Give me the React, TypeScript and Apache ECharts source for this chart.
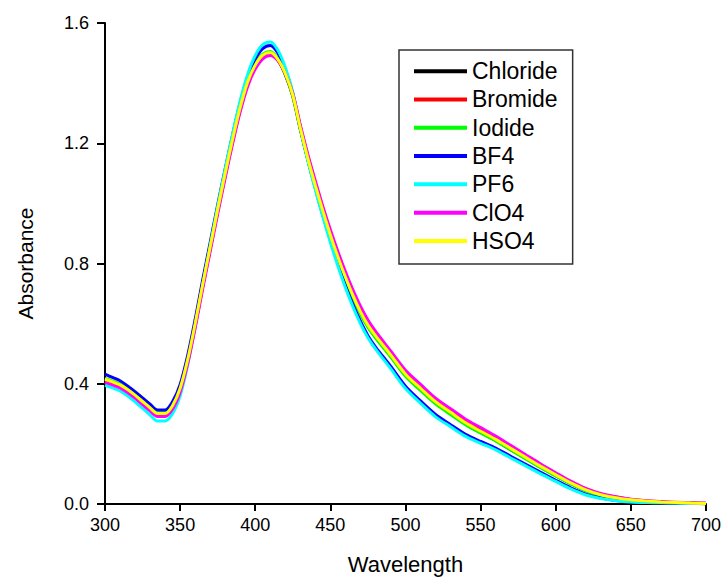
import React, { useEffect, useRef } from "react";
import * as echarts from "echarts";

const WAVELENGTHS = [
  300, 305, 310, 315, 320, 325, 330, 335, 340, 345, 350, 355, 360, 365, 370, 375, 380, 385, 390, 395,
  400, 405, 410, 415, 420, 425, 430, 435, 440, 445, 450, 455, 460, 465, 470, 475, 480,
  490, 500, 510, 520, 530, 540, 550, 560, 570, 580, 590, 600, 610, 620, 630, 640, 650, 660, 670, 680, 690, 700,
];

const CHLORIDE = [
  0.412, 0.403, 0.393, 0.378, 0.359, 0.338, 0.317, 0.298, 0.298, 0.325, 0.382, 0.477, 0.597, 0.727, 0.852, 0.977, 1.097, 1.212, 1.317, 1.402,
  1.457, 1.490, 1.499, 1.477, 1.428, 1.356, 1.246, 1.146, 1.056, 0.971, 0.891, 0.818, 0.751, 0.690, 0.636, 0.591, 0.556,
  0.493, 0.428, 0.381, 0.336, 0.301, 0.266, 0.238, 0.211, 0.181, 0.152, 0.122, 0.094, 0.068, 0.045, 0.029, 0.019, 0.013, 0.009, 0.006, 0.004, 0.003, 0.001,
];

const BROMIDE = [
  0.409, 0.400, 0.390, 0.375, 0.356, 0.335, 0.314, 0.295, 0.295, 0.321, 0.378, 0.472, 0.592, 0.722, 0.847, 0.972, 1.092, 1.207, 1.312, 1.397,
  1.453, 1.487, 1.497, 1.478, 1.433, 1.363, 1.256, 1.157, 1.068, 0.983, 0.904, 0.832, 0.765, 0.704, 0.650, 0.604, 0.568,
  0.504, 0.439, 0.392, 0.346, 0.311, 0.276, 0.248, 0.221, 0.190, 0.160, 0.129, 0.101, 0.073, 0.050, 0.033, 0.023, 0.015, 0.011, 0.008, 0.005, 0.004, 0.002,
];

const IODIDE = [
  0.418, 0.409, 0.399, 0.384, 0.365, 0.344, 0.323, 0.304, 0.304, 0.331, 0.388, 0.483, 0.603, 0.733, 0.858, 0.983, 1.103, 1.218, 1.323, 1.408,
  1.463, 1.496, 1.505, 1.482, 1.432, 1.358, 1.247, 1.146, 1.055, 0.969, 0.889, 0.815, 0.748, 0.687, 0.633, 0.588, 0.553,
  0.490, 0.425, 0.378, 0.333, 0.298, 0.264, 0.236, 0.210, 0.180, 0.150, 0.121, 0.093, 0.067, 0.044, 0.029, 0.019, 0.013, 0.009, 0.006, 0.004, 0.003, 0.002,
];

const BF4 = [
  0.432, 0.421, 0.410, 0.393, 0.374, 0.353, 0.332, 0.313, 0.313, 0.341, 0.398, 0.494, 0.614, 0.745, 0.870, 0.995, 1.115, 1.230, 1.336, 1.422,
  1.480, 1.515, 1.525, 1.500, 1.445, 1.365, 1.250, 1.145, 1.050, 0.960, 0.877, 0.800, 0.728, 0.664, 0.608, 0.560, 0.523,
  0.459, 0.392, 0.343, 0.298, 0.264, 0.232, 0.208, 0.186, 0.159, 0.132, 0.105, 0.079, 0.054, 0.033, 0.020, 0.012, 0.008, 0.006, 0.004, 0.003, 0.002, 0.001,
];

const PF6 = [
  0.395, 0.386, 0.376, 0.360, 0.340, 0.318, 0.296, 0.276, 0.276, 0.301, 0.360, 0.462, 0.590, 0.727, 0.858, 0.990, 1.114, 1.232, 1.342, 1.430,
  1.492, 1.528, 1.537, 1.510, 1.452, 1.370, 1.250, 1.142, 1.045, 0.955, 0.870, 0.792, 0.720, 0.656, 0.600, 0.553, 0.516,
  0.451, 0.384, 0.335, 0.290, 0.257, 0.225, 0.202, 0.180, 0.153, 0.127, 0.100, 0.075, 0.050, 0.030, 0.018, 0.011, 0.007, 0.005, 0.004, 0.003, 0.002, 0.001,
];

const CLO4 = [
  0.405, 0.396, 0.386, 0.371, 0.352, 0.331, 0.310, 0.291, 0.291, 0.316, 0.372, 0.466, 0.585, 0.715, 0.840, 0.965, 1.085, 1.200, 1.305, 1.390,
  1.447, 1.481, 1.492, 1.475, 1.432, 1.365, 1.260, 1.163, 1.075, 0.990, 0.912, 0.840, 0.773, 0.712, 0.658, 0.612, 0.575,
  0.510, 0.445, 0.398, 0.352, 0.317, 0.282, 0.254, 0.226, 0.195, 0.164, 0.133, 0.104, 0.076, 0.052, 0.035, 0.024, 0.016, 0.011, 0.008, 0.006, 0.004, 0.003,
];

const HSO4 = [
  0.415, 0.406, 0.396, 0.381, 0.362, 0.341, 0.320, 0.301, 0.301, 0.328, 0.385, 0.480, 0.600, 0.730, 0.855, 0.980, 1.100, 1.215, 1.320, 1.405,
  1.460, 1.493, 1.502, 1.480, 1.432, 1.360, 1.250, 1.150, 1.060, 0.975, 0.895, 0.822, 0.755, 0.694, 0.640, 0.595, 0.560,
  0.497, 0.432, 0.385, 0.340, 0.305, 0.270, 0.242, 0.215, 0.185, 0.155, 0.125, 0.097, 0.070, 0.047, 0.031, 0.021, 0.014, 0.010, 0.007, 0.005, 0.003, 0.002,
];

const SERIES_NAMES = ["Chloride", "Bromide", "Iodide", "BF4", "PF6", "ClO4", "HSO4"];
const SERIES_VALUES = [CHLORIDE, BROMIDE, IODIDE, BF4, PF6, CLO4, HSO4];
const SERIES_COLORS = ["#000000", "#ff0000", "#00ff00", "#0000ff", "#00ffff", "#ff00ff", "#ffff00"];

const FONT = "'Liberation Sans', Arial, sans-serif";

export default function App() {
  const ref = useRef<HTMLDivElement>(null);

  useEffect(() => {
    if (!ref.current) return;
    const chart = echarts.init(ref.current, null, { renderer: "svg" });
    const series = SERIES_NAMES.map((name, i) => ({
      name,
      type: "line",
      data: WAVELENGTHS.map((w, j) => [w, SERIES_VALUES[i][j]]),
      symbol: "none",
      smooth: 0.3,
      lineStyle: { color: SERIES_COLORS[i], width: 3 },
      itemStyle: { color: SERIES_COLORS[i] },
      emphasis: { disabled: true },
    }));
    chart.setOption({
      animation: false,
      backgroundColor: "#ffffff",
      textStyle: { fontFamily: FONT },
      grid: { left: 105, right: 17, top: 23, bottom: 73, containLabel: false },
      xAxis: {
        type: "value",
        min: 300,
        max: 700,
        interval: 50,
        name: "Wavelength",
        nameLocation: "middle",
        nameGap: 49,
        nameTextStyle: { fontSize: 22, color: "#000", fontFamily: FONT },
        axisLine: { show: true, onZero: false, lineStyle: { color: "#000", width: 2 } },
        axisTick: { show: true, length: 7, lineStyle: { color: "#000", width: 2 } },
        axisLabel: { fontSize: 18, color: "#000", margin: 12, fontFamily: FONT },
        splitLine: { show: false },
      },
      yAxis: {
        type: "value",
        min: 0,
        max: 1.6,
        interval: 0.4,
        name: "Absorbance",
        nameLocation: "middle",
        nameGap: 69,
        nameRotate: 90,
        nameTextStyle: { fontSize: 21, color: "#000", fontFamily: FONT },
        axisLine: { show: true, onZero: false, lineStyle: { color: "#000", width: 2 } },
        axisTick: { show: true, length: 8, lineStyle: { color: "#000", width: 2 } },
        axisLabel: {
          fontSize: 18,
          color: "#000",
          margin: 16,
          fontFamily: FONT,
          formatter: (v: number) => v.toFixed(1),
        },
        splitLine: { show: false },
      },
      legend: {
        orient: "vertical",
        left: 399,
        top: 50,
        padding: [7, 15, 9, 15],
        itemGap: 0,
        itemWidth: 53,
        itemHeight: 4,
        icon: "rect",
        borderColor: "#333",
        borderWidth: 1.5,
        backgroundColor: "#fff",
        selectedMode: false,
        data: SERIES_NAMES,
        textStyle: { fontSize: 23, lineHeight: 28.3, color: "#000", fontFamily: FONT },
      },
      series,
    });
    return () => chart.dispose();
  }, []);

  return (
    <div
      ref={ref}
      style={{ position: "absolute", left: 0, top: 0, width: 724, height: 580 }}
    />
  );
}
